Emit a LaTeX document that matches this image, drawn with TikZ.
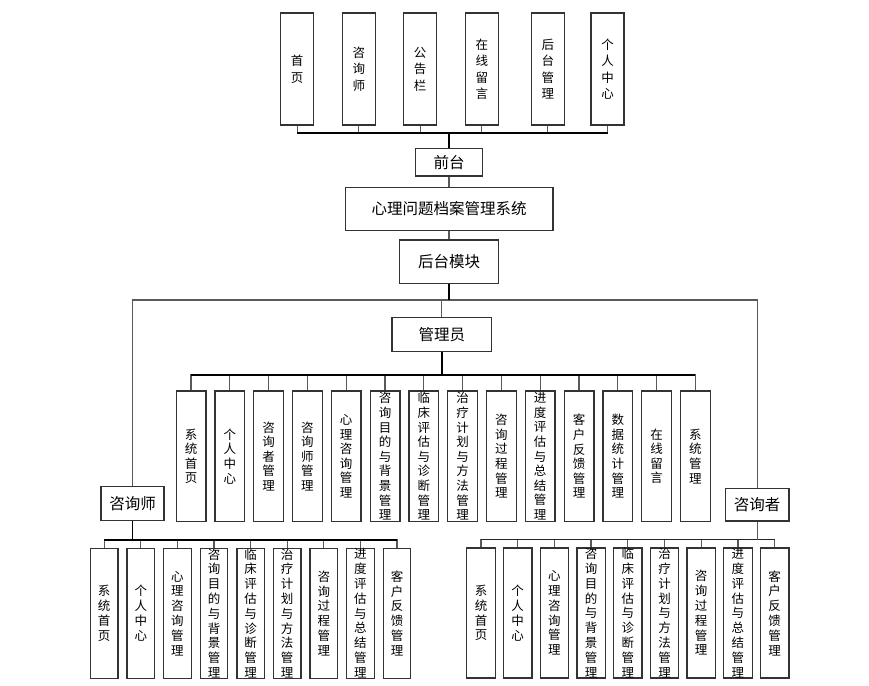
\documentclass[tikz,border=0pt]{standalone}
\usepackage{fontspec}
\setmainfont{Noto Sans CJK SC}
\usetikzlibrary{positioning}
\tikzset{
  box/.style={draw=black!80, line width=1.3pt, fill=white, inner sep=0pt, align=center},
  hbox/.style={box, font=\fontsize{15.5}{18}\selectfont},
  fbox/.style={box, minimum width=33pt, minimum height=112pt, font=\fontsize{12.5}{16.5}\selectfont},
  abox/.style={box, minimum width=29.7pt, minimum height=130.7pt, font=\fontsize{12.5}{14.6}\selectfont},
  ubox/.style={box, minimum width=27.5pt, minimum height=130pt, font=\fontsize{12.5}{14.8}\selectfont},
  link/.style={draw=black!65, line width=1.3pt},
  trunk/.style={draw=black, line width=1.6pt},
}

\begin{document}
\begin{tikzpicture}[x=1pt,y=-1pt]
	\useasboundingbox (0,0) rectangle (869,685);
	
	% front pages
	\foreach \x/\t [count=\i] in {297.2/首\\页, 358.8/咨\\询\\师, 420.2/公\\告\\栏,
		481.8/在\\线\\留\\言, 547.8/后\\台\\管\\理, 607.5/个\\人\\中\\心}
		\node[fbox] (f\i) at (\x,69) {\t};
	
	\node[hbox, minimum width=66.7pt, minimum height=27.7pt] (qt) at (449,162.2) {前台};
	\node[hbox, minimum width=207.7pt, minimum height=43pt] (sys) at (449,208.8) {心理问题档案管理系统};
	\node[hbox, minimum width=99.4pt, minimum height=43.3pt] (ht) at (449,261.7) {后台模块};
	
	% roles
	\node[hbox, minimum width=99.7pt, minimum height=33.6pt] (gly) at (441.8,334.5) {管理员};
	\node[hbox, minimum width=63pt, minimum height=33.6pt] (zxs) at (132.5,503.5) {咨询师};
	\node[hbox, minimum width=63.7pt, minimum height=32.7pt] (zxz) at (757.2,504.7) {咨询者};
	
	% admin functions
	\foreach \t [count=\i] in {系\\统\\首\\页, 个\\人\\中\\心, 咨\\询\\者\\管\\理, 咨\\询\\师\\管\\理,
		心\\理\\咨\\询\\管\\理, 咨\\询\\目\\的\\与\\背\\景\\管\\理, 临\\床\\评\\估\\与\\诊\\断\\管\\理,
		治\\疗\\计\\划\\与\\方\\法\\管\\理, 咨\\询\\过\\程\\管\\理, 进\\度\\评\\估\\与\\总\\结\\管\\理,
		客\\户\\反\\馈\\管\\理, 数\\据\\统\\计\\管\\理, 在\\线\\留\\言, 系\\统\\管\\理}
		\node[abox] (a\i) at ({191+(\i-1)*38.8},456.3) {\t};
	
	% counsellor and client functions
	\foreach \t [count=\i] in {系\\统\\首\\页, 个\\人\\中\\心, 心\\理\\咨\\询\\管\\理,
		咨\\询\\目\\的\\与\\背\\景\\管\\理, 临\\床\\评\\估\\与\\诊\\断\\管\\理,
		治\\疗\\计\\划\\与\\方\\法\\管\\理, 咨\\询\\过\\程\\管\\理,
		进\\度\\评\\估\\与\\总\\结\\管\\理, 客\\户\\反\\馈\\管\\理} {
		\node[ubox] (c\i) at ({104.2+(\i-1)*36.6},613.3) {\t};
		\node[ubox, minimum width=28.5pt] (k\i) at ({481+(\i-1)*36.7},613) {\t};
	}
	
	% connectors
	\coordinate (fbus) at (449,133);
	\foreach \i in {1,...,6}
		\draw[link] (f\i.south) |- (fbus);
	\draw[trunk] (f1.south |- fbus) -- (f6.south |- fbus);
	\draw[trunk] (qt.north) -- (fbus);
	\draw[link] (qt) -- (sys);
	\draw[link] (sys) -- (ht);
	
	\coordinate (bbus) at (449,300);
	\draw[link] (zxs.north) |- (bbus) -| (zxz.north);
	\draw[link] (gly.north) -- (gly.north |- bbus);
	\draw[trunk] (ht.south) -- (bbus);
	
	\coordinate (abus) at (441.8,375);
	\foreach \i in {1,...,14}
		\draw[link] (a\i.north) |- (abus);
	\draw[trunk] (a1.north |- abus) -- (a14.north |- abus);
	\draw[trunk] (gly.south) -- (abus);
	
	\coordinate (lbus) at (132.5,540);
	\coordinate (rbus) at (757.2,539.5);
	\foreach \i in {1,...,9} {
		\draw[link] (c\i.north) |- (lbus);
		\draw[link] (k\i.north) |- (rbus);
	}
	\draw[trunk] (c1.north |- lbus) -- (c9.north |- lbus);
	\draw[trunk] (zxs.south) -- (lbus);
	\draw[link, draw=black!85] (k1.north |- rbus) -- (k9.north |- rbus);
	\draw[link] (zxz.south) -- (rbus);
\end{tikzpicture}
\end{document}
